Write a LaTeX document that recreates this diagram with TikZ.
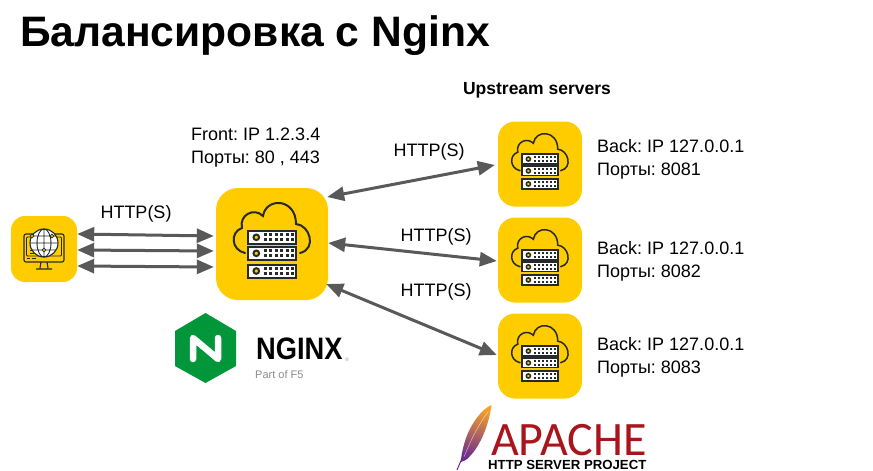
\documentclass[tikz,border=0pt]{standalone}
\usepackage{fontspec}
\setmainfont{Liberation Sans}
\newfontfamily\carlitofont{Carlito}
\usepackage{xcolor}
\usetikzlibrary{arrows.meta,positioning}
\frenchspacing
\definecolor{BoxYellow}{HTML}{FFCC00}
\definecolor{ArrowGray}{HTML}{595959}
\definecolor{IconDark}{HTML}{262A2B}
\definecolor{NginxGreen}{HTML}{009639}
\definecolor{ApacheRed}{HTML}{A8151D}
\definecolor{FeatherOrange}{HTML}{F6A02A}
\definecolor{FeatherRed}{HTML}{C6203A}
\definecolor{FeatherPurple}{HTML}{6A2C8E}
\tikzset{
  box/.style={fill=BoxYellow,rounded corners=#1,inner sep=0pt},
  biarrow/.style={<->,>={Triangle[length=17pt,width=14pt]},draw=ArrowGray,line width=3pt},
  label/.style={font=\fontsize{18}{23}\selectfont,align=left,inner sep=0pt},
  pics/cloudrack/.style={code={
    \draw[IconDark,line cap=round] (-27,9) .. controls (-41,6) and (-42,-12) .. (-30,-16)
      .. controls (-33,-29) and (-18,-37) .. (-9,-28)
      .. controls (-6,-47) and (24,-46) .. (24,-20)
      .. controls (38,-19) and (45,5) .. (28,9);
    \foreach \rowy in {-6.7,9.3,27}{
      \fill[white,draw=IconDark] (-24,\rowy-6.5) rectangle (24,\rowy+6.5);
      \fill[BoxYellow,draw=IconDark] (-15.7,\rowy) circle[radius=2.8];
      \foreach \dotx in {-7,-1.5,4,9.5,15,20.5}{
        \fill[IconDark] (\dotx-1.5,\rowy-4) rectangle (\dotx+1.5,\rowy-1);
        \fill[IconDark] (\dotx-1.5,\rowy+1) rectangle (\dotx+1.5,\rowy+4);
      }
    }
  }},
  pics/globescreen/.style={code={
    \draw[IconDark,line width=1.1pt,rounded corners=2pt] (-20,-15) rectangle (20,13);
    \draw[IconDark,line width=.8pt,rounded corners=1pt] (-17.5,-12) rectangle (17.5,7);
    \draw[IconDark,line width=.8pt] (-17.5,9.5) -- (-14,9.5) (-12,9.5) -- (-8,9.5);
    \draw[IconDark,line width=.8pt] (-14,1) -- (-8,1) (-14,4) -- (-4,4);
    \draw[IconDark,line width=1.1pt] (-3,13) -- (-4,19) (3,13) -- (4,19) (-8,20) -- (8,20);
    \fill[white,draw=IconDark,line width=1.1pt] (0,-6) circle[radius=14];
    \draw[IconDark,line width=.9pt] (0,-6) ellipse[x radius=7,y radius=14] (0,-20) -- (0,8)
      (-14,-6) -- (14,-6) (-12,-13) -- (12,-13) (-12,1) -- (12,1);
    \fill[BoxYellow,draw=IconDark,line width=.7pt] (8,-13) circle[radius=1.8] (0,1) circle[radius=1.8] (-12,-13) circle[radius=1.8];
  }}
}
\begin{document}
\begin{tikzpicture}[x=1pt,y=-1pt]
  \useasboundingbox (0,0) rectangle (873,471);
  \node[anchor=base west,inner sep=0pt,font=\fontsize{42.6}{46}\selectfont\bfseries] (title) at (20,46) {Балансировка с Nginx};
  % boxes
  \node[box=14pt,minimum width=66pt,minimum height=66pt] (client) at (44,249) {};
  \node[box=22pt,minimum width=112pt,minimum height=112pt] (front) at (272,244) {};
  \node[box=17pt,minimum width=84pt,minimum height=85pt] (back1) at (540,164) {};
  \node[box=17pt,minimum width=84pt,minimum height=85pt] (back2) at (540,260) {};
  \node[box=17pt,minimum width=84pt,minimum height=85pt] (back3) at (540,356) {};
  \pic at (client) {globescreen};
  \pic[line width=2pt] at (front) {cloudrack};
  \pic[scale=.74,line width=1.5pt] at (back1) {cloudrack};
  \pic[scale=.74,line width=1.5pt] at (back2) {cloudrack};
  \pic[scale=.74,line width=1.5pt] at (back3) {cloudrack};
  % arrows
  \draw[biarrow] ([yshift=15pt]client.east) -- ([yshift=8pt,xshift=-2pt]front.west);
  \draw[biarrow] ([yshift=-1pt]client.east) -- ([yshift=-7pt,xshift=-2pt]front.west);
  \draw[biarrow] ([yshift=-17pt]client.east) -- ([yshift=-23pt,xshift=-2pt]front.west);
  \draw[biarrow] ([yshift=47pt,xshift=-1pt]front.east) -- ([yshift=-1pt,xshift=-3pt]back1.west);
  \draw[biarrow] ([yshift=1pt]front.east) -- ([yshift=-1pt,xshift=-1pt]back2.west);
  \draw[biarrow] ([yshift=-40pt,xshift=-2pt]front.east) -- ([yshift=1pt,xshift=-1pt]back3.west);
  % labels
  \node[label] (httpleft) at (136,213.5) {HTTP(S)};
  \node[label] (httpa) at (429,151.5) {HTTP(S)};
  \node[label] (httpb) at (436,236.5) {HTTP(S)};
  \node[label] (httpc) at (436,291.5) {HTTP(S)};
  \node[label,font=\fontsize{17.5}{23}\selectfont\bfseries] (upstream) at (537,90) {Upstream servers};
  \node[label,anchor=west] (fronttext) at (191,148) {Front: IP 1.2.3.4\\Порты: 80 , 443};
  \node[label,anchor=west] (backa) at (597,159) {Back: IP 127.0.0.1\\Порты: 8081};
  \node[label,anchor=west] (backb) at (597,261.5) {Back: IP 127.0.0.1\\Порты: 8082};
  \node[label,anchor=west] (backc) at (597,357) {Back: IP 127.0.0.1\\Порты: 8083};
  % nginx logo
  \fill[NginxGreen] (205.5,313) -- (236,331) -- (236,366) -- (205.5,383) -- (175,366) -- (175,331) -- cycle;
  \draw[white,line width=6.5pt,line join=round,line cap=round] (193,359) -- (193,338) -- (218,359) -- (218,338);
  \node[anchor=base west,inner sep=0pt,xscale=.88,font=\fontsize{31}{31}\selectfont\bfseries] (nginx) at (256,359) {NGINX};
  \node[anchor=base west,inner sep=0pt,text=black!45,font=\fontsize{11}{11}\selectfont] (partof) at (255,378) {Part of F5};
  \node[anchor=base west,inner sep=0pt,text=black!40,font=\fontsize{5}{5}\selectfont] (regmark) at (345,361) {®};
  % apache logo
  \shade[top color=FeatherOrange,middle color=FeatherRed,bottom color=FeatherPurple,shading angle=-15]
    (491.5,405) .. controls (482,409) and (472,422) .. (466,438)
    .. controls (463,447) and (461,456) .. (461,462)
    .. controls (464,461) and (467,460) .. (470,456)
    .. controls (480,446) and (489,425) .. (491.5,405) -- cycle;
  \draw[FeatherPurple,line width=1pt] (463,456) -- (457,470);
  \draw[white,opacity=.6,line width=.5pt] (488,412) .. controls (478,425) and (470,442) .. (464,457);
  \node[anchor=base west,inner sep=0pt,text=ApacheRed,font=\fontsize{48}{48}\selectfont\carlitofont] (apache) at (491,455.5) {APACHE};
  \node[anchor=base west,inner sep=0pt,font=\fontsize{13.2}{14}\selectfont\bfseries] (apachesub) at (488,469) {HTTP SERVER PROJECT};
\end{tikzpicture}
\end{document}
